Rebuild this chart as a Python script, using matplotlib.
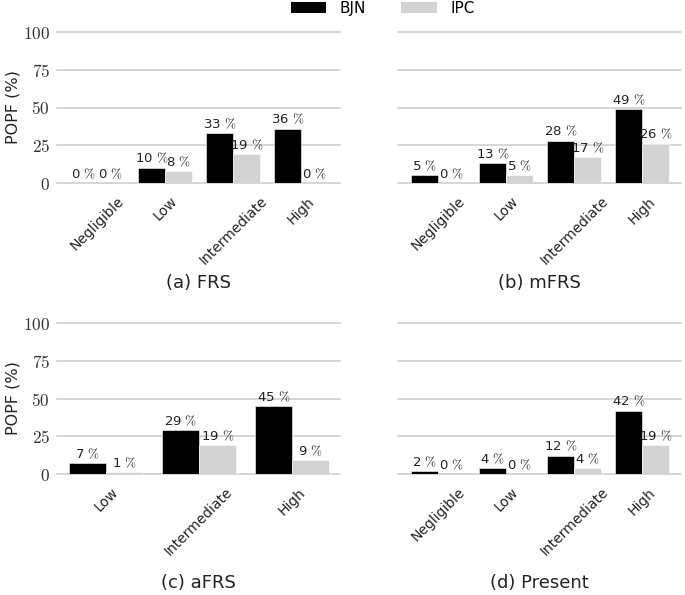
import matplotlib
matplotlib.use('Agg')
import matplotlib.pyplot as plt
from matplotlib.patches import Patch
from matplotlib.ticker import FuncFormatter

plt.rcParams['mathtext.fontset'] = 'cm'
plt.rcParams['font.family'] = ['DejaVu Sans']

series_names = ['BJN', 'IPC']
series_colors = ['#000000', '#d3d3d3']

frs_cats = ['Negligible', 'Low', 'Intermediate', 'High']
frs_bjn = [0, 10, 33, 36]
frs_ipc = [0, 8, 19, 0]

mfrs_cats = ['Negligible', 'Low', 'Intermediate', 'High']
mfrs_bjn = [5, 13, 28, 49]
mfrs_ipc = [0, 5, 17, 26]

afrs_cats = ['Low', 'Intermediate', 'High']
afrs_bjn = [7, 29, 45]
afrs_ipc = [1, 19, 9]

present_cats = ['Negligible', 'Low', 'Intermediate', 'High']
present_bjn = [2, 4, 12, 42]
present_ipc = [0, 0, 4, 19]

captions = ['(a) FRS', '(b) mFRS', '(c) aFRS', '(d) Present']
yticks = [0, 25, 50, 75, 100]

W, H = 685, 595
fig = plt.figure(figsize=(W / 100, H / 100), dpi=100)

def rect(x0, x1, ytop, ybot):
    return [x0 / W, 1 - ybot / H, (x1 - x0) / W, (ybot - ytop) / H]

panels = [
    (frs_cats, frs_bjn, frs_ipc, rect(57, 340, 32, 183), True, (-0.59, 3.57), 283),
    (mfrs_cats, mfrs_bjn, mfrs_ipc, rect(398, 681, 32, 183), False, (-0.59, 3.57), 283),
    (afrs_cats, afrs_bjn, afrs_ipc, rect(57, 340, 323, 474), True, (-0.53, 2.52), 583),
    (present_cats, present_bjn, present_ipc, rect(398, 681, 323, 474), False, (-0.59, 3.57), 583),
]

bw = 0.4
for i, (cats, bjn, ipc, r, left, xl, cap_y) in enumerate(panels):
    ax = fig.add_axes(r)
    for y in yticks:
        ax.axhline(y, color='#cccccc', linewidth=1.1, zorder=0, clip_on=False)
    xs = list(range(len(cats)))
    for j, (vals, col) in enumerate(zip([bjn, ipc], series_colors)):
        pos = [x + (j - 0.5) * bw for x in xs]
        bars = ax.bar(pos, vals, width=bw, color=col, edgecolor='white', linewidth=0.4, zorder=3)
        for b, v in zip(bars, vals):
            ax.annotate(f'{v} $\\%$', (b.get_x() + b.get_width() / 2, v),
                        xytext=(0, 1.5), textcoords='offset points',
                        ha='center', va='bottom', fontsize=9.5, color='#222222', zorder=4)
    ax.set_xlim(*xl)
    ax.set_ylim(0, 100)
    ax.set_yticks(yticks)
    ax.yaxis.set_major_formatter(FuncFormatter(lambda v, p: f'${v:g}$'))
    ax.set_xticks(xs)
    ax.set_xticklabels(cats, rotation=45, fontsize=10, color='#222222')
    ax.tick_params(axis='both', length=0)
    ax.tick_params(axis='x', pad=8)
    ax.tick_params(axis='y', pad=5, labelsize=12.5, labelcolor='#333333')
    if not left:
        ax.tick_params(axis='y', labelleft=False)
    else:
        ax.set_ylabel('POPF (%)', fontsize=11.5, color='#222222')
        ax.yaxis.set_label_coords(-0.128, 0.5)
    ax.grid(False)
    for s in ax.spines.values():
        s.set_visible(False)
    cx = (r[0] + r[2] / 2)
    fig.text(cx, 1 - cap_y / H, captions[i], ha='center', va='center', fontsize=13, color='#222222')

handles = [Patch(facecolor=c, edgecolor='none') for c in series_colors]
fig.legend(handles, series_names, loc='upper center', bbox_to_anchor=(0.559, 1.0),
           ncol=2, frameon=False, fontsize=11, handlelength=2.3, handleheight=0.8,
           handletextpad=0.9, columnspacing=2.3, borderpad=0.05, borderaxespad=0)

fig.savefig('out.png', dpi=100)
